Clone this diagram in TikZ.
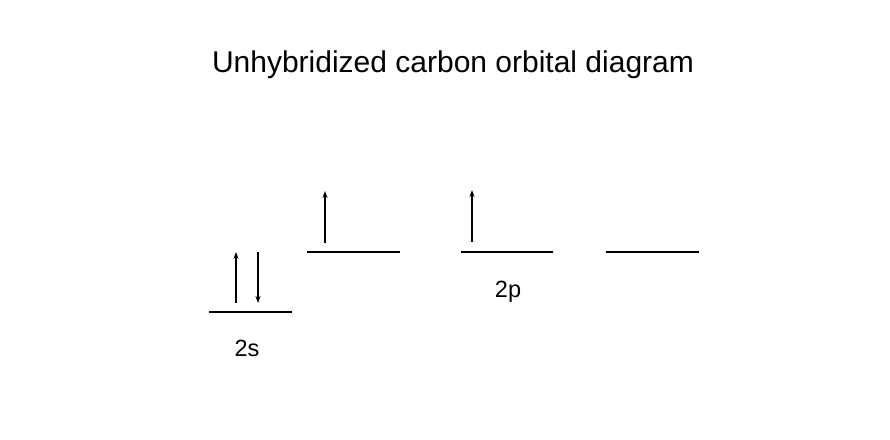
\documentclass[tikz,border=0pt]{standalone}
\usepackage{fontspec}
\setmainfont{Liberation Sans}
\usetikzlibrary{arrows.meta}
\begin{document}
\begin{tikzpicture}[x=1pt,y=-1pt,
  level/.style={line width=1.1pt},
  spin/.style={line width=1.1pt,-{Stealth[length=7pt,width=5pt]}},
  lbl/.style={anchor=base,inner sep=0pt,font=\fontsize{23.5}{27}\selectfont}]
\useasboundingbox[fill=white] (0,0) rectangle (890,439);
\node[anchor=base,inner sep=0pt,font=\fontsize{30}{36}\selectfont] (title) at (453,72) {Unhybridized carbon orbital diagram};
% 2s level
\coordinate (s1) at (209,312); \coordinate (s2) at (292,312);
\draw[level] (s1) -- (s2);
\coordinate (su1) at (236,303); \coordinate (su2) at (236,252);
\draw[spin] (su1) -- (su2);
\coordinate (sd1) at (258,252); \coordinate (sd2) at (258,303);
\draw[spin] (sd1) -- (sd2);
\node[lbl] (lab2s) at (247,356) {2s};
% 2p levels
\coordinate (pa1) at (307,252); \coordinate (pa2) at (400,252);
\draw[level] (pa1) -- (pa2);
\coordinate (pau1) at (325,243); \coordinate (pau2) at (325,191);
\draw[spin] (pau1) -- (pau2);
\coordinate (pb1) at (461,252); \coordinate (pb2) at (553,252);
\draw[level] (pb1) -- (pb2);
\coordinate (pbu1) at (472,242); \coordinate (pbu2) at (472,190);
\draw[spin] (pbu1) -- (pbu2);
\coordinate (pc1) at (606,252); \coordinate (pc2) at (699,252);
\draw[level] (pc1) -- (pc2);
\node[lbl] (lab2p) at (508,297) {2p};
\end{tikzpicture}
\end{document}
